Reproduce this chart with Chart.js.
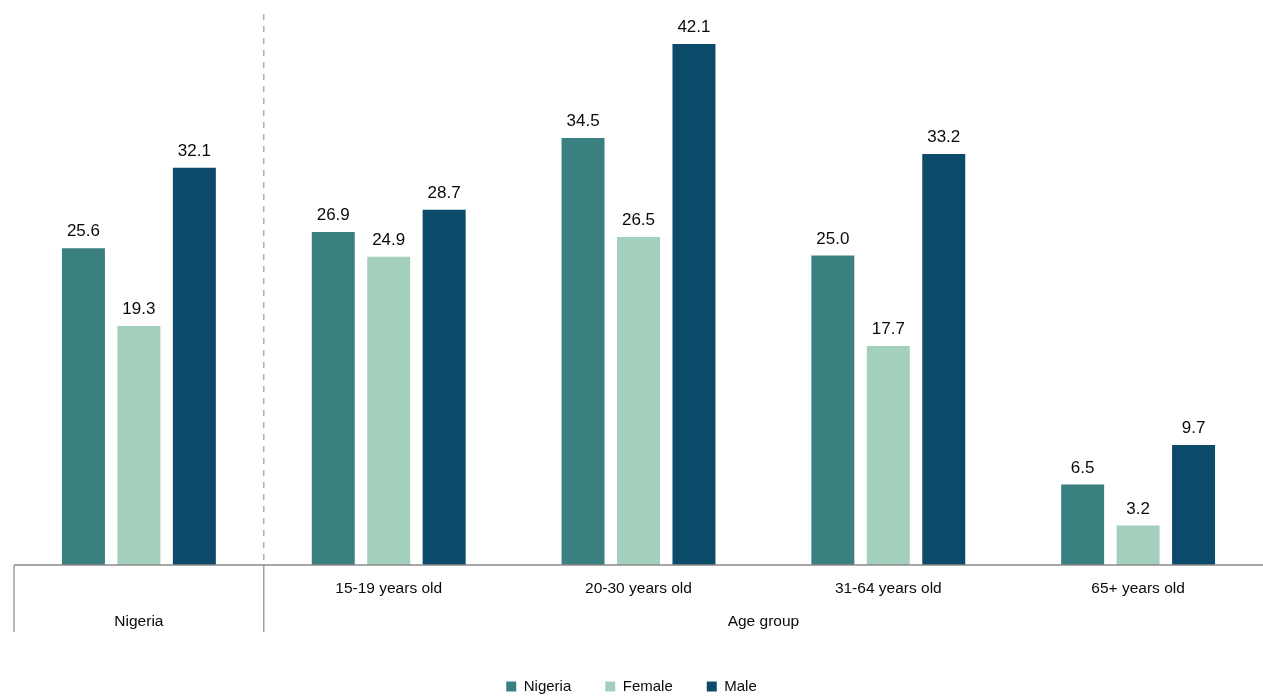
<!DOCTYPE html>
<html>
<head>
<meta charset="utf-8">
<script src="https://cdn.jsdelivr.net/npm/chart.js@4.4.0/dist/chart.umd.min.js"></script>
<style>
  html, body { margin: 0; padding: 0; background: #fff; }
  #wrap { width: 1263px; height: 696px; position: relative; }
</style>
</head>
<body>
<div id="wrap"><canvas id="chart"></canvas></div>
<script>
const categories = ['Nigeria', '15-19 years old', '20-30 years old', '31-64 years old', '65+ years old']
const tickLabels = ['', '15-19 years old', '20-30 years old', '31-64 years old', '65+ years old']
const groupLabels = ['Nigeria', 'Age group']
const nigeria = [25.6, 26.9, 34.5, 25.0, 6.5]
const female = [19.3, 24.9, 26.5, 17.7, 3.2]
const male = [32.1, 28.7, 42.1, 33.2, 9.7]

const FONT = '"Liberation Sans", Arial, sans-serif'

// value labels above each bar
const valueLabels = {
    id: 'valueLabels',
    afterDatasetsDraw(chart){
        const ctx = chart.ctx
        ctx.save()
        ctx.font = '17px ' + FONT
        ctx.fillStyle = '#0a0a0a'
        ctx.textAlign = 'center'
        ctx.textBaseline = 'bottom'
        chart.data.datasets.forEach((ds, i) => {
            chart.getDatasetMeta(i).data.forEach((bar, j) => {
                ctx.fillText(ds.data[j].toFixed(1), bar.x, bar.y - 8)
            })
        })
        ctx.restore()
    }
}

// axis line, dashed divider and the grouping row under the ticks
const frame = {
    id: 'frame',
    afterDraw(chart){
        const ctx = chart.ctx
        const x = chart.scales.x
        const area = chart.chartArea
        const step = x.getPixelForValue(1) - x.getPixelForValue(0)
        const left = x.getPixelForValue(0) - step / 2
        const split = x.getPixelForValue(0) + step / 2
        const base = area.bottom
        ctx.save()
        ctx.strokeStyle = '#8a8a8a'
        ctx.lineWidth = 1.5
        ctx.beginPath()
        ctx.moveTo(left, base)
        ctx.lineTo(area.right, base)
        ctx.stroke()

        ctx.lineWidth = 1.2
        ctx.beginPath()
        ctx.moveTo(left, base)
        ctx.lineTo(left, base + 67)
        ctx.moveTo(split, base)
        ctx.lineTo(split, base + 67)
        ctx.stroke()

        ctx.setLineDash([6, 6])
        ctx.strokeStyle = '#999'
        ctx.beginPath()
        ctx.moveTo(split, 14)
        ctx.lineTo(split, base)
        ctx.stroke()
        ctx.setLineDash([])

        ctx.font = '15.5px ' + FONT
        ctx.fillStyle = '#0a0a0a'
        ctx.textAlign = 'center'
        ctx.textBaseline = 'middle'
        ctx.fillText(groupLabels[0], (left + split) / 2, base + 57)
        ctx.fillText(groupLabels[1], (split + area.right) / 2, base + 57)
        ctx.restore()
    }
}

new Chart(document.getElementById('chart'), {
    type: 'bar',
    data: {
        labels: categories,
        datasets: [
            { label: 'Nigeria', data: nigeria, backgroundColor: '#3a8080' },
            { label: 'Female', data: female, backgroundColor: '#a2d0bd' },
            { label: 'Male', data: male, backgroundColor: '#0b4a69' }
        ]
    },
    options: {
        responsive: true,
        maintainAspectRatio: false,
        animation: false,
        layout: { padding: { top: 8, left: 0, right: 0, bottom: -8 } },
        datasets: { bar: { categoryPercentage: 0.666, barPercentage: 0.775 } },
        plugins: {
            legend: {
                position: 'bottom',
                labels: {
                    font: { family: FONT, size: 15 },
                    color: '#0a0a0a',
                    boxWidth: 10,
                    boxHeight: 10,
                    padding: 34
                }
            },
            tooltip: { enabled: false }
        },
        scales: {
            x: {
                grid: { display: false },
                border: { display: false },
                ticks: {
                    color: '#0a0a0a',
                    font: { family: FONT, size: 15.5 },
                    maxRotation: 0,
                    padding: 6,
                    callback: (v, i) => tickLabels[i]
                },
                afterFit: s => { s.height = 80 }
            },
            // kept only as an empty left margin
            y: {
                min: 0,
                max: 45,
                grid: { display: false },
                border: { display: false },
                ticks: { display: false },
                afterFit: s => { s.width = 14 }
            }
        }
    },
    plugins: [valueLabels, frame]
})
</script>
</body>
</html>
